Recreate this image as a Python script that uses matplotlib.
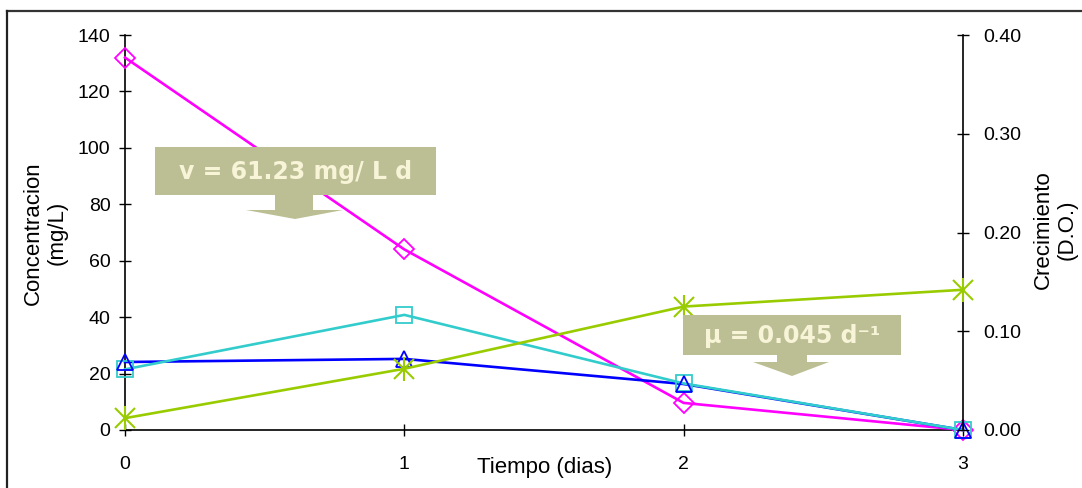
import matplotlib
matplotlib.use("Agg")
import matplotlib.pyplot as plt
from matplotlib.patches import Polygon
from matplotlib.lines import Line2D

# ---- data ----
dias = [0, 1, 2, 3]
serie_magenta = [132, 64, 9.6, 0]      # diamonds
serie_cyan = [21.5, 40.8, 16.5, 0]     # squares
serie_azul = [24.1, 25.2, 16.3, 0]     # triangles
crecimiento = [0.012, 0.062, 0.125, 0.142]  # stars, right axis
left_ticks = [0, 20, 40, 60, 80, 100, 120, 140]
right_ticks = [0.0, 0.1, 0.2, 0.3, 0.4]
x_ticks = [0, 1, 2, 3]

W, H = 1082, 488
fig = plt.figure(figsize=(W / 100, H / 100), dpi=100)
plt.rcParams['font.family'] = ['Liberation Sans', 'DejaVu Sans']

def fx(px):
    return px / W

def fy(py):
    return 1 - py / H

x0, x1, ytop, ybot = 125, 963, 35, 430
ax = fig.add_axes([fx(x0), fy(ybot), fx(x1) - fx(x0), fy(ytop) - fy(ybot)])
ax2 = ax.twinx()

ax.set_xlim(0, 3)
ax.set_ylim(0, 140)
ax2.set_ylim(0, 0.4)

for a in (ax, ax2):
    a.spines['top'].set_visible(False)
    a.patch.set_visible(False)
ax.spines['right'].set_visible(False)
ax2.spines['left'].set_visible(False)
ax2.spines['bottom'].set_visible(False)
for a in (ax, ax2):
    for s in a.spines.values():
        s.set_linewidth(1.2)
        s.set_color('black')

ax.set_xticks(x_ticks)
ax.set_yticks(left_ticks)
ax2.set_yticks(right_ticks)
ax2.set_yticklabels([f"{v:.2f}" for v in right_ticks])
ax.tick_params(axis='both', direction='inout', length=9, width=1, labelsize=14, pad=6)
ax.tick_params(axis='x', pad=14)
ax2.tick_params(axis='y', direction='inout', length=9, width=1, labelsize=14, pad=10)

lw = 1.9
ax.plot(dias, serie_magenta, color='#FF00FF', lw=lw, marker='D', ms=10,
        mfc='none', mec='#FF00FF', mew=1.3, clip_on=False, zorder=3)
ax.plot(dias, serie_azul, color='#0000FF', lw=lw, clip_on=False, zorder=3)
ax.plot(dias, serie_cyan, color='#33CCCC', lw=lw, marker='s', ms=12,
        mfc='none', mec='#33CCCC', mew=1.3, clip_on=False, zorder=4)
ax.plot(dias, serie_azul, ls='none', marker='^', ms=12,
        mfc='none', mec='#0000FF', mew=1.3, clip_on=False, zorder=5)
ax2.plot(dias, crecimiento, color='#99CC00', lw=lw, marker='x', ms=14,
         mec='#99CC00', mew=1.5, clip_on=False, zorder=3)
ax2.plot(dias, crecimiento, ls='none', marker='|', ms=17,
         mec='#99CC00', mew=1.5, clip_on=False, zorder=3)

fig.text(fx(45), fy(233), "Concentracion\n(mg/L)", rotation=90, ha='center',
         va='center', fontsize=16, linespacing=1.2)
fig.text(fx(1055), fy(230), "Crecimiento\n(D.O.)", rotation=90, ha='center',
         va='center', fontsize=16, linespacing=1.2)
fig.text(fx(545), fy(467), "Tiempo (dias)", ha='center', va='center', fontsize=16)

# ---- callouts ----
box_c = '#BCBF94'
txt_c = '#F7F4D8'

def callout(bx0, bx1, by0, by1, sx0, sx1, sy1, hx0, hx1, tipx, tipy, text):
    pts = [(bx0, by0), (bx1, by0), (bx1, by1), (sx1, by1), (sx1, sy1),
           (hx1, sy1), (tipx, tipy), (hx0, sy1), (sx0, sy1), (sx0, by1), (bx0, by1)]
    poly = Polygon([(fx(x), fy(y)) for x, y in pts], closed=True,
                   transform=fig.transFigure, facecolor=box_c, edgecolor='none',
                   zorder=10)
    fig.patches.append(poly)
    fig.text(fx((bx0 + bx1) / 2), fy((by0 + by1) / 2 + 1), text, ha='center',
             va='center', fontsize=17, fontweight='bold', color=txt_c,
             family=['DejaVu Sans'], zorder=11)

callout(155, 436, 147, 195, 275, 313, 210, 246, 343, 295, 219,
        "v = 61.23 mg/ L d")
callout(683, 901, 315, 355, 777, 807, 362, 753, 829, 792, 376,
        "\u00b5 = 0.045 d\u207b\u00b9")

# ---- outer frame ----
fig.add_artist(Line2D([fx(7), fx(W + 5)], [fy(10.5), fy(10.5)],
                      transform=fig.transFigure, color='#333333', lw=1.6))
fig.add_artist(Line2D([fx(7), fx(7)], [fy(10.5), fy(H + 5)],
                      transform=fig.transFigure, color='#222222', lw=1.6))

fig.savefig("out.png", dpi=100)
